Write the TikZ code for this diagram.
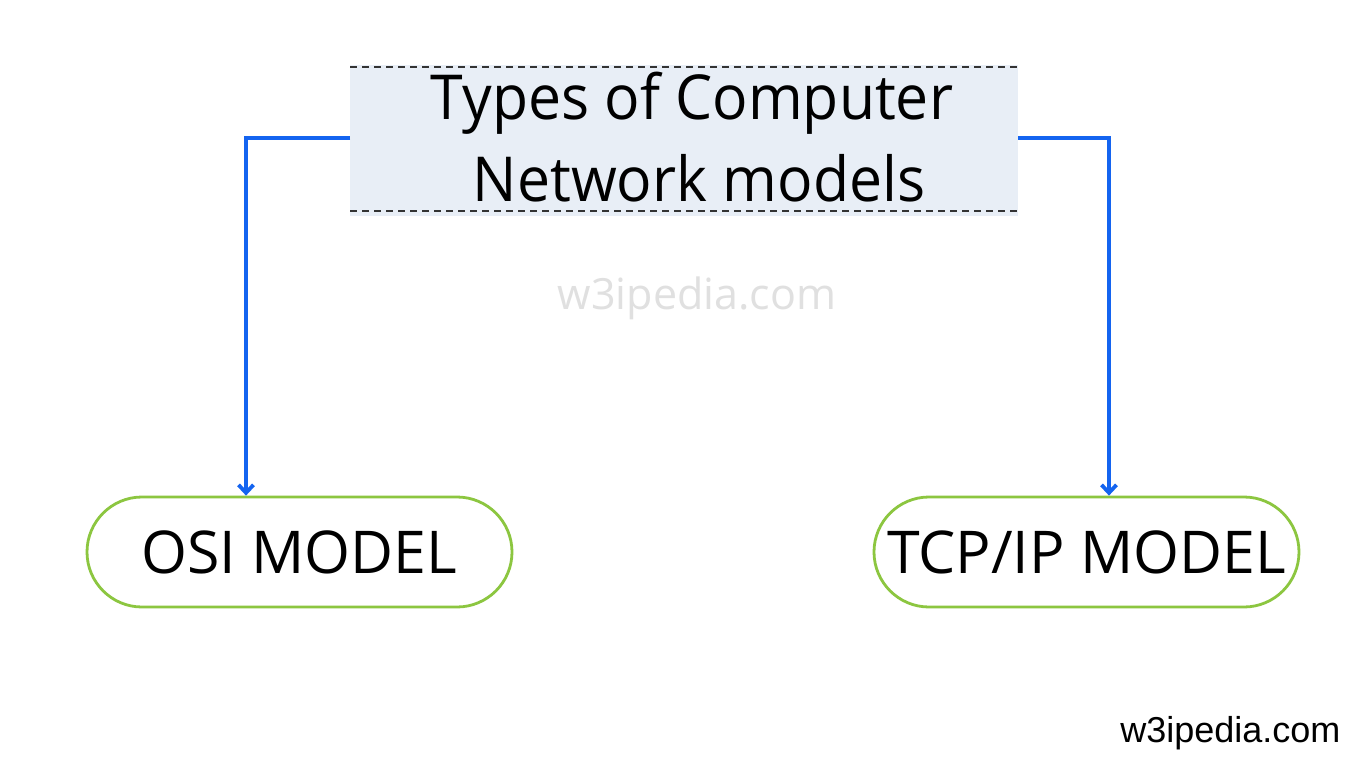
\documentclass[tikz,border=0pt]{standalone}
\usepackage{fontspec}
\setmainfont{Open Sans}
\newfontfamily\titlefont[FakeStretch=0.95]{Open Sans}
\newfontfamily\markfont{Liberation Sans}
\usetikzlibrary{arrows.meta,shapes.misc}
\definecolor{linkblue}{HTML}{1464F0}
\definecolor{pillgreen}{HTML}{8CC640}
\definecolor{titlebg}{HTML}{E8EEF6}
\definecolor{wmgray}{HTML}{E0E0E0}
\tikzset{
  conn/.style={draw=linkblue, line width=4.5pt, -{Straight Barb[length=8pt,width=15pt,line width=3.8pt]}},
  pill/.style={draw=pillgreen, line width=2.8pt, fill=white, rounded rectangle, minimum width=425pt, minimum height=110pt, font=\fontsize{59}{59}\selectfont, inner sep=0pt},
  dashline/.style={line width=2pt, dash pattern=on 7pt off 5pt, black!80},
}
\begin{document}
\begin{tikzpicture}[x=1pt,y=-1pt]
\useasboundingbox (0,0) rectangle (1366,774);
\fill[white] (0,0) rectangle (1366,774);
% title box
\fill[titlebg] (350,65) rectangle (1018,216);
\draw[dashline] (350,67) -- (1018,67);
\draw[dashline] (350,211) -- (1018,211);
\node[inner sep=0pt, align=center, font=\titlefont\fontsize{62}{82}\selectfont] (title) at (692,137) {Types of Computer\\\hspace*{14pt}Network models};
\coordinate (tl) at (350,138);
\coordinate (tr) at (1018,138);
% pills
\node[pill] (osi) at (299.5,552) {OSI MODEL};
\node[pill] (tcp) at (1086.5,552) {TCP/IP MODEL};
% connectors
\draw[conn] (tl) -| (osi.north -| 246,0);
\draw[conn] (tr) -| (tcp.north -| 1109,0);
% watermarks
\node[text=wmgray, font=\fontsize{43}{43}\selectfont] (wm) at (697,298) {w3ipedia.com};
\node[anchor=east, font=\markfont\fontsize{36}{36}\selectfont] (mark) at (1344,733) {w3ipedia.com};
\end{tikzpicture}
\end{document}
